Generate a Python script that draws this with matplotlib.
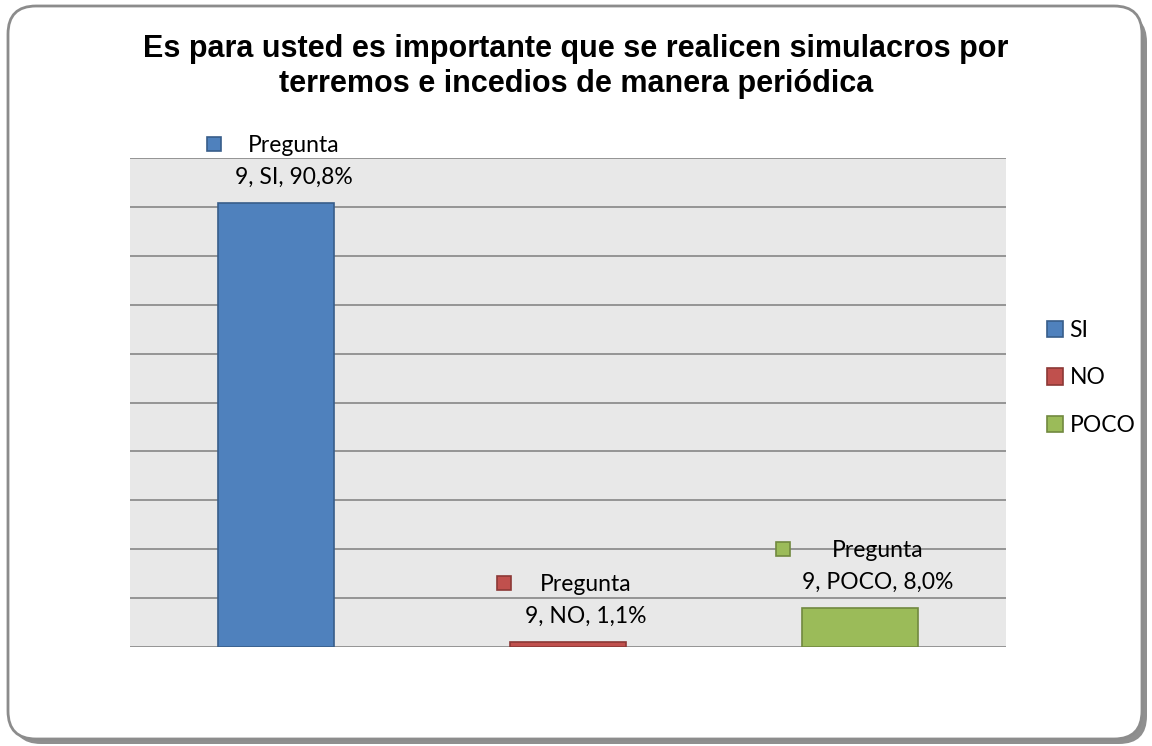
import matplotlib
matplotlib.use("Agg")
import matplotlib.pyplot as plt
from matplotlib.patches import FancyBboxPatch
from matplotlib.transforms import offset_copy

# ---- data ----
categories = ["SI", "NO", "POCO"]
values = [0.908, 0.011, 0.080]
value_labels = ["90,8%", "1,1%", "8,0%"]
series_name = "Pregunta 9"
title = "Es para usted es importante que se realicen simulacros por\nterremos e incedios de manera periódica"

# ---- style ----
face = ["#4F81BD", "#C0504D", "#9BBB59"]
edge = ["#385D8A", "#8C3836", "#71893F"]
sq_dx = [-62, -64, -77]   # pixel offset of the legend-key square in the data label
font = "Lato"
fs = 16.5

fig = plt.figure(figsize=(11.52, 7.46), dpi=100)
fig.patch.set_facecolor("white")

# frame with shadow (inches)
shadow = FancyBboxPatch((0.13, 0.02), 11.34, 7.30,
                        boxstyle="round,pad=0,rounding_size=0.28",
                        transform=fig.dpi_scale_trans, facecolor="#8f8f8f",
                        edgecolor="none", zorder=0)
frame = FancyBboxPatch((0.08, 0.07), 11.34, 7.33,
                       boxstyle="round,pad=0,rounding_size=0.28",
                       transform=fig.dpi_scale_trans, facecolor="white",
                       edgecolor="#8c8c8c", linewidth=2, zorder=0.5)
fig.patches.extend([shadow, frame])

ax = fig.add_axes([130 / 1152, 1 - 647 / 746, 876 / 1152, 489 / 746])
ax.set_zorder(2)
ax.set_facecolor("#E8E8E8")
ax.set_xlim(-0.5, 2.5)
ax.set_ylim(0, 1)
ax.set_yticks([i / 10 for i in range(11)])
ax.set_xticks([])
ax.tick_params(left=False, labelleft=False)
ax.grid(axis="y", color="#868686", linewidth=1.2)
ax.set_axisbelow(True)
for s in ax.spines.values():
    s.set_visible(False)

for i, (c, v, lab) in enumerate(zip(categories, values, value_labels)):
    ax.bar(i, v, width=0.4, color=face[i], edgecolor=edge[i], linewidth=1.2,
           label=c, zorder=3)
    tr = offset_copy(ax.transData, fig=fig, x=sq_dx[i], y=59, units="dots")
    ax.plot([i], [v], marker="s", markersize=10.5, markerfacecolor=face[i],
            markeredgecolor=edge[i], markeredgewidth=1.2, linestyle="none",
            transform=tr, clip_on=False, zorder=4)
    ax.annotate("Pregunta", xy=(i, v), xytext=(18, 51), textcoords="offset pixels",
                ha="center", va="baseline", fontsize=fs, family=font,
                annotation_clip=False, zorder=4)
    ax.annotate(f"9, {c}, {lab}", xy=(i, v), xytext=(18, 19), textcoords="offset pixels",
                ha="center", va="baseline", fontsize=fs, family=font,
                annotation_clip=False, zorder=4)

leg = ax.legend(loc="center left",
                bbox_to_anchor=((1047 - 130) / 876, (647 - 378) / 489),
                frameon=False, prop={"family": font, "size": fs},
                handlelength=0.7, handleheight=0.7, handletextpad=0.28,
                labelspacing=1.15, borderaxespad=0, borderpad=0)

fig.text(576 / 1152, 1 - 66.5 / 746, title, ha="center", va="center",
         fontsize=22, fontweight="bold", family="Liberation Sans",
         linespacing=1.2, zorder=3)

fig.savefig("out.png", dpi=100)
